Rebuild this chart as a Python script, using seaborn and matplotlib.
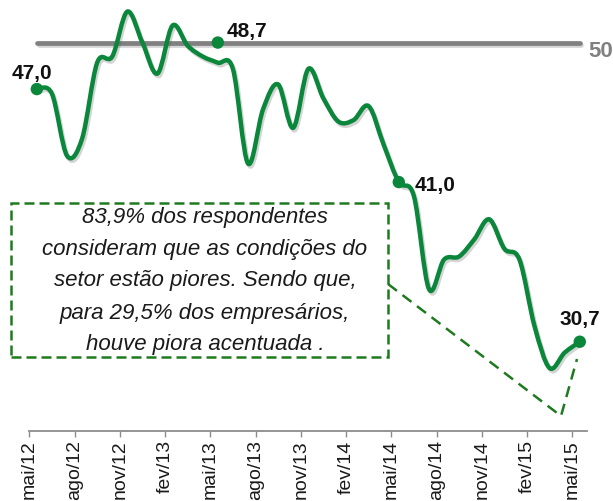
import numpy as np
import pandas as pd
import matplotlib
matplotlib.use("Agg")
import matplotlib.pyplot as plt
import seaborn as sns
from matplotlib.path import Path
from matplotlib.patches import PathPatch, Rectangle, Polygon
import matplotlib.patheffects as pe
from matplotlib import font_manager as fm

# ---------------- data ----------------
months = ["mai/12", "jun/12", "jul/12", "ago/12", "set/12", "out/12", "nov/12", "dez/12",
          "jan/13", "fev/13", "mar/13", "abr/13", "mai/13", "jun/13", "jul/13", "ago/13",
          "set/13", "out/13", "nov/13", "dez/13", "jan/14", "fev/14", "mar/14", "abr/14",
          "mai/14", "jun/14", "jul/14", "ago/14", "set/14", "out/14", "nov/14", "dez/14",
          "jan/15", "fev/15", "mar/15", "abr/15", "mai/15"]
values = [47.0, 46.7, 42.7, 43.8, 48.7, 49.1, 52.0, 50.0, 48.0, 51.1, 49.8, 49.1,
          48.7, 48.3, 42.2, 45.7, 47.3, 44.5, 48.3, 46.4, 44.9, 45.0, 45.9, 43.4,
          41.0, 40.1, 34.1, 36.0, 36.2, 37.3, 38.6, 36.7, 36.0, 31.7, 29.0, 30.0, 30.7]
tick_labels = ["mai/12", "ago/12", "nov/12", "fev/13", "mai/13", "ago/13", "nov/13",
               "fev/14", "mai/14", "ago/14", "nov/14", "fev/15", "mai/15"]
ref_value = 50
ref_label = "50"
highlight_idx = [0, 12, 24, 36]
highlight_y = [47.0, 50.0, 41.0, 30.7]
highlight_text = ["47,0", "48,7", "41,0", "30,7"]
note_lines = ["83,9% dos respondentes",
              "consideram que as condições do",
              "setor estão piores. Sendo que,",
              "para 29,5% dos empresários,",
              "houve piora acentuada ."]

# ---------------- style ----------------
sns.set_style("white")
names = {f.name for f in fm.fontManager.ttflist}
narrow = "Liberation Sans Narrow" in names
base = "Liberation Sans"
cond = "Liberation Sans Narrow" if narrow else base
plt.rcParams["font.family"] = [base, "DejaVu Sans"]

GREEN = "#0a873b"
BOXGREEN = "#1f7a1f"
GRAY = "#808080"

fig = plt.figure(figsize=(6.13, 5.02), dpi=100)
ax = fig.add_axes([0.0478, 0.1394, 0.9103, 0.8606])

idx = np.arange(len(values))
df = pd.DataFrame({"i": idx, "v": values})

shadow = [pe.SimpleLineShadow(offset=(1.2, -1.8), shadow_color="#555555", alpha=0.25), pe.Normal()]

# reference line at 50
sns.lineplot(x=[idx[0], idx[-1]], y=[ref_value, ref_value], ax=ax, color=GRAY, lw=3.4,
             solid_capstyle="round", zorder=2)
ax.lines[-1].set_path_effects(shadow)

# smooth series (Bezier through the data points, in data coordinates)
pts = df[["i", "v"]].to_numpy(dtype=float)
n = len(pts)
verts = [pts[0]]
codes = [Path.MOVETO]
for k in range(n - 1):
    p0 = pts[max(k - 1, 0)]
    p1 = pts[k]
    p2 = pts[k + 1]
    p3 = pts[min(k + 2, n - 1)]
    c1 = p1 + (p2 - p0) / 6.0
    c2 = p2 - (p3 - p1) / 6.0
    verts += [c1, c2, p2]
    codes += [Path.CURVE4] * 3
patch = PathPatch(Path(verts, codes), fill=False, edgecolor=GREEN, lw=3.2,
                  capstyle="round", joinstyle="round", zorder=3)
patch.set_path_effects(shadow)
ax.add_patch(patch)

# highlight dots
sns.scatterplot(x=highlight_idx, y=highlight_y, ax=ax, color=GREEN, s=80,
                edgecolor="none", zorder=4, legend=False)

lbl = dict(fontsize=15, fontweight="bold", color="#111111", family=[cond, "DejaVu Sans"],
           textcoords="offset points")
ax.annotate(highlight_text[0], (highlight_idx[0], highlight_y[0]), xytext=(-3.5, 12),
            ha="center", va="center", **lbl)
ax.annotate(highlight_text[1], (highlight_idx[1], highlight_y[1]), xytext=(6.5, 9),
            ha="left", va="center", **lbl)
ax.annotate(highlight_text[2], (highlight_idx[2], highlight_y[2]), xytext=(11.5, -2),
            ha="left", va="center", **lbl)
ax.annotate(highlight_text[3], (highlight_idx[3], highlight_y[3]), xytext=(0, 16.5),
            ha="center", va="center", **lbl)
ax.annotate(ref_label, (idx[-1], ref_value), xytext=(6, -5.5), textcoords="offset points",
            ha="left", va="center", fontsize=16, fontweight="bold", color=GRAY,
            family=[cond, "DejaVu Sans"], annotation_clip=False)

# axes
ax.set_xlim(-0.5, 36.5)
ax.set_ylim(24.94, 52.81)
ax.set_yticks([])
ax.set_xticks(np.arange(-0.5, 36.6, 3))
ax.set_xticklabels(tick_labels, rotation=90, fontsize=14, color="#1a1a1a")
ax.tick_params(axis="x", length=4, width=1, color="#8c8c8c", pad=2, direction="out",
               bottom=True)
for s in ["left", "top", "right"]:
    ax.spines[s].set_visible(False)
ax.spines["bottom"].set_color("#8c8c8c")
ax.spines["bottom"].set_linewidth(1.3)
ax.set_xlabel("")
ax.set_ylabel("")

# callout box (figure coordinates)
W, H = 613.0, 502.0
def fx(px):
    return px / W
def fy(py):
    return 1 - py / H

ls = (0, (4, 2))
rect = Rectangle((fx(11), fy(358)), fx(388) - fx(11), fy(204) - fy(358), transform=fig.transFigure,
                 fill=False, edgecolor=BOXGREEN, lw=1.8, linestyle=ls, zorder=5)
fig.patches.append(rect)
wedge = Polygon([(fx(388), fy(285)), (fx(561), fy(417)), (fx(577), fy(360))], closed=False,
                transform=fig.transFigure, fill=False, edgecolor=BOXGREEN, lw=1.8,
                linestyle=(0, (4.5, 2.8)), zorder=5)
fig.patches.append(wedge)

note_fs = 18 if narrow else 16
ys = [217, 249, 281, 313, 345]
for t, yy in zip(note_lines, ys):
    fig.text(fx(205), fy(yy), t, ha="center", va="center", fontsize=note_fs, style="italic",
             color="#1a1a1a", family=[cond, "DejaVu Sans"])

fig.savefig("out.png", dpi=100)
